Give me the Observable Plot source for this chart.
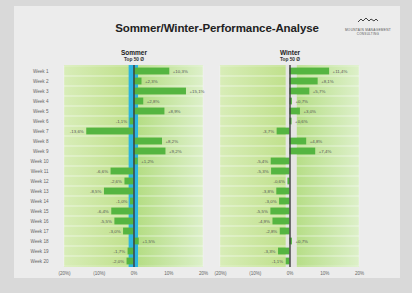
<!DOCTYPE html>
<html><head><meta charset="utf-8">
<script src="https://cdn.jsdelivr.net/npm/d3@7"></script>
<script src="https://cdn.jsdelivr.net/npm/@observablehq/plot@0.6"></script>
<style>
html,body{margin:0;padding:0;background:#d9d9d9;}
#wrap{position:relative;width:412px;height:293px;overflow:hidden;font-family:"Liberation Sans",Arial,sans-serif;}
#card{position:absolute;left:14px;top:6px;width:386px;height:272px;background:#ececec;}
#title{position:absolute;left:0;width:434px;top:22px;text-align:center;font-weight:bold;font-size:11.5px;color:#222;letter-spacing:-0.1px;}
#logo{position:absolute;left:337px;top:9px;width:62px;text-align:center;color:#555;}
#logo .l1{font-size:3.2px;letter-spacing:0.3px;margin-top:1px;}
#logo .l2{font-size:3px;letter-spacing:0.3px;}
#chart{position:absolute;left:0;top:0;}
</style></head>
<body>
<div id="wrap">
  <div id="card"></div>
  <div id="title">Sommer/Winter-Performance-Analyse</div>
  <div id="logo">
    <svg width="20" height="6" viewBox="0 0 20 6"><polyline points="0,5 3,2 5,4 8,1 11,4 13,2 16,4 18,2 20,4" fill="none" stroke="#444" stroke-width="1"/></svg>
    <div class="l1">MOUNTAIN MANAGEMENT</div>
    <div class="l2">CONSULTING</div>
  </div>
  <div id="chart"></div>
</div>
<script>
const weeks = ["Week 1","Week 2","Week 3","Week 4","Week 5","Week 6","Week 7","Week 8","Week 9","Week 10",
  "Week 11","Week 12","Week 13","Week 14","Week 15","Week 16","Week 17","Week 18","Week 19","Week 20"];
const seasons = ["Sommer","Winter"];
const subtitles = ["Top 50 Ø","Top 50 Ø"];
const sommer = [10.3, 2.3, 15.1, 2.8, 8.9, -1.1, -13.6, 8.2, 9.2, 1.2, -6.6, -2.6, -8.5, -1.0, -6.4, -5.5, -3.0, 1.5, -1.7, -2.0];
const winter = [11.4, 8.1, 5.7, 0.7, 3.0, 0.6, -3.7, 4.8, 7.4, -5.4, -5.3, -0.6, -3.8, -3.0, -5.5, -4.9, -2.8, 0.7, -3.3, -1.1];
const bandLow = [-1.4, -1.1];
const bandHigh = [1.3, 2.1];
const xTicks = [-20, -10, 0, 10, 20];

const rows = weeks.flatMap((w, i) => [
  {week: w, season: "Sommer", v: sommer[i]},
  {week: w, season: "Winter", v: winter[i]}
]);
const bands = seasons.map((s, i) => ({season: s, lo: bandLow[i], hi: bandHigh[i], sub: subtitles[i]}));
const bandFill = {Sommer: "#2db4e0", Winter: "#e5e5e3"};

const fmtVal = v => (v > 0 ? "+" : v < 0 ? "-" : "") + Math.abs(v).toFixed(1).replace(".", ",") + "%";
const fmtTick = v => v < 0 ? "(" + Math.abs(v) + "%)" : v + "%";

const chart = Plot.plot({
  width: 412, height: 293,
  marginTop: 65, marginBottom: 26, marginLeft: 63, marginRight: 52,
  style: {fontSize: "4.6px", color: "#666", background: "transparent", fontFamily: "Liberation Sans, Arial, sans-serif"},
  fx: {domain: seasons, paddingInner: 0.108, paddingOuter: 0, axis: null},
  x: {domain: [-20, 20], ticks: xTicks, tickFormat: fmtTick, tickSize: 0, tickPadding: 4, label: null},
  y: {domain: weeks, padding: 0, tickSize: 0, tickPadding: 16, label: null},
  color: {type: "identity"},
  marks: [
    Plot.barX([0], {x1: -20, x2: 0, fill: "url(#gNeg)"}),
    Plot.barX([0], {x1: 0, x2: 20, fill: "url(#gPos)"}),
    Plot.barX(weeks, {y: d => d, x1: -20, x2: 20, fill: "none", stroke: "#ffffff", strokeOpacity: 0.5, strokeWidth: 0.6, insetTop: 0, insetBottom: 0}),
    Plot.barX(bands, {fx: "season", x1: "lo", x2: "hi", fill: d => bandFill[d.season]}),
    Plot.barX(rows, {fx: "season", y: "week", x: "v", fill: "#55b541", insetTop: 1.6, insetBottom: 1.6}),
    Plot.ruleX([0], {stroke: "#3a3a3a", strokeWidth: 1.4}),
    Plot.text(rows.filter(d => d.v >= 0), {fx: "season", y: "week", x: "v", text: d => fmtVal(d.v), textAnchor: "start", dx: 3, fill: "#555", fontSize: 4.4}),
    Plot.text(rows.filter(d => d.v < 0), {fx: "season", y: "week", x: "v", text: d => fmtVal(d.v), textAnchor: "end", dx: -3, fill: "#555", fontSize: 4.4}),
    Plot.text(bands, {fx: "season", x: 0, text: "season", frameAnchor: "top", dy: -15, fontWeight: "bold", fontSize: 6.5, fill: "#222"}),
    Plot.text(bands, {fx: "season", x: 0, text: "sub", frameAnchor: "top", dy: -8, fontWeight: "bold", fontSize: 4.8, fill: "#333"})
  ]
});

const ns = "http://www.w3.org/2000/svg";
const defs = document.createElementNS(ns, "defs");
function grad(id, c0, c1) {
  const g = document.createElementNS(ns, "linearGradient");
  g.setAttribute("id", id);
  g.setAttribute("x1", "0"); g.setAttribute("x2", "1"); g.setAttribute("y1", "0"); g.setAttribute("y2", "0");
  [[0, c0], [1, c1]].forEach(([o, c]) => {
    const s = document.createElementNS(ns, "stop");
    s.setAttribute("offset", o); s.setAttribute("stop-color", c);
    g.appendChild(s);
  });
  defs.appendChild(g);
}
grad("gNeg", "#d8edb8", "#bfe08a");
grad("gPos", "#b2dc80", "#ddf0c9");
chart.insertBefore(defs, chart.firstChild);
document.getElementById("chart").appendChild(chart);
</script>
</body></html>
